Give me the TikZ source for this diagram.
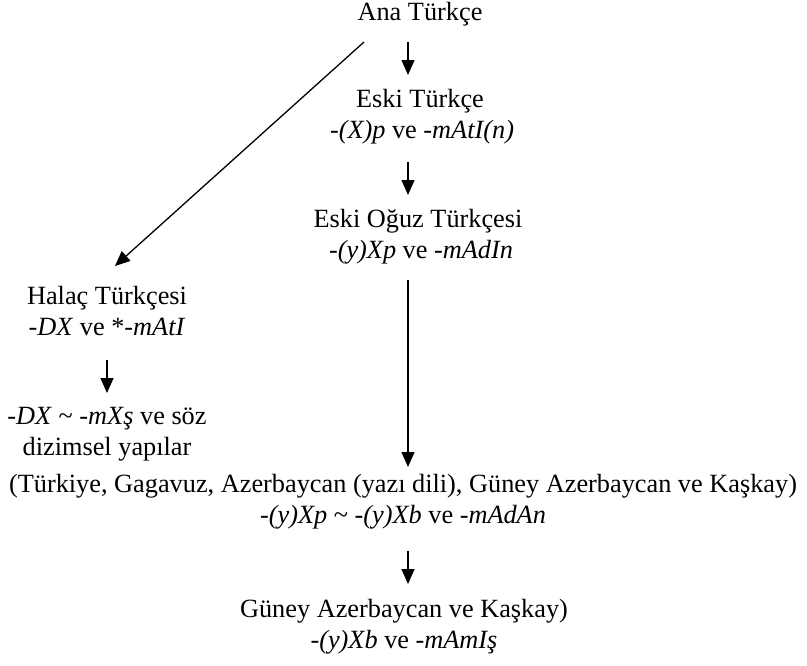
\documentclass[tikz,border=0pt]{standalone}
\usepackage{fontspec}
\setmainfont{Liberation Serif}
\usetikzlibrary{arrows.meta}
\begin{document}
\begin{tikzpicture}[x=0.5pt,y=-0.5pt,
  lbl/.style={anchor=base, inner sep=0pt, font=\fontsize{13.15pt}{15pt}\selectfont},
  arr/.style={line width=0.65pt, -{Triangle[width=6.5pt,length=7.5pt]}}]
\useasboundingbox (0,0) rectangle (807,665);
% text nodes
\node[lbl] (ana) at (420,20) {Ana Türkçe};
\node[lbl] (eski) at (420,107) {Eski Türkçe};
\node[lbl] (eskiM) at (422,138) {\textit{-(X)p} ve \textit{-mAtI(n)}};
\node[lbl] (oguz) at (418,227) {Eski Oğuz Türkçesi};
\node[lbl] (oguzM) at (421,258) {\textit{-(y)Xp} ve \textit{-mAdIn}};
\node[lbl] (halac) at (107,304) {Halaç Türkçesi};
\node[lbl] (halacM) at (107,335) {\textit{-DX} ve *\textit{-mAtI}};
\node[lbl] (soz1) at (107,424) {\textit{-DX} \textasciitilde{} \textit{-mXş} ve söz};
\node[lbl] (soz2) at (107,455) {dizimsel yapılar};
\node[lbl] (turk) at (403,492) {(Türkiye, Gagavuz, Azerbaycan (yazı dili), Güney Azerbaycan ve Kaşkay)};
\node[lbl] (turkM) at (403,523) {\textit{-(y)Xp} \textasciitilde{} \textit{-(y)Xb} ve \textit{-mAdAn}};
\node[lbl] (guney) at (404,617) {Güney Azerbaycan ve Kaşkay)};
\node[lbl] (guneyM) at (404,648) {\textit{-(y)Xb} ve \textit{-mAmIş}};
% connector end points
\coordinate (a1s) at (408,42);  \coordinate (a1e) at (408,75);
\coordinate (a2s) at (408,162); \coordinate (a2e) at (408,195);
\coordinate (a3s) at (408,280); \coordinate (a3e) at (408,467);
\coordinate (d1s) at (364,42);  \coordinate (d1e) at (115,266);
\coordinate (h1s) at (107,360); \coordinate (h1e) at (107,393);
\coordinate (a4s) at (408,551); \coordinate (a4e) at (408,584);
% connectors
\draw[arr] (a1s) -- (a1e);
\draw[arr] (a2s) -- (a2e);
\draw[arr] (a3s) -- (a3e);
\draw[arr] (d1s) -- (d1e);
\draw[arr] (h1s) -- (h1e);
\draw[arr] (a4s) -- (a4e);
\end{tikzpicture}
\end{document}
